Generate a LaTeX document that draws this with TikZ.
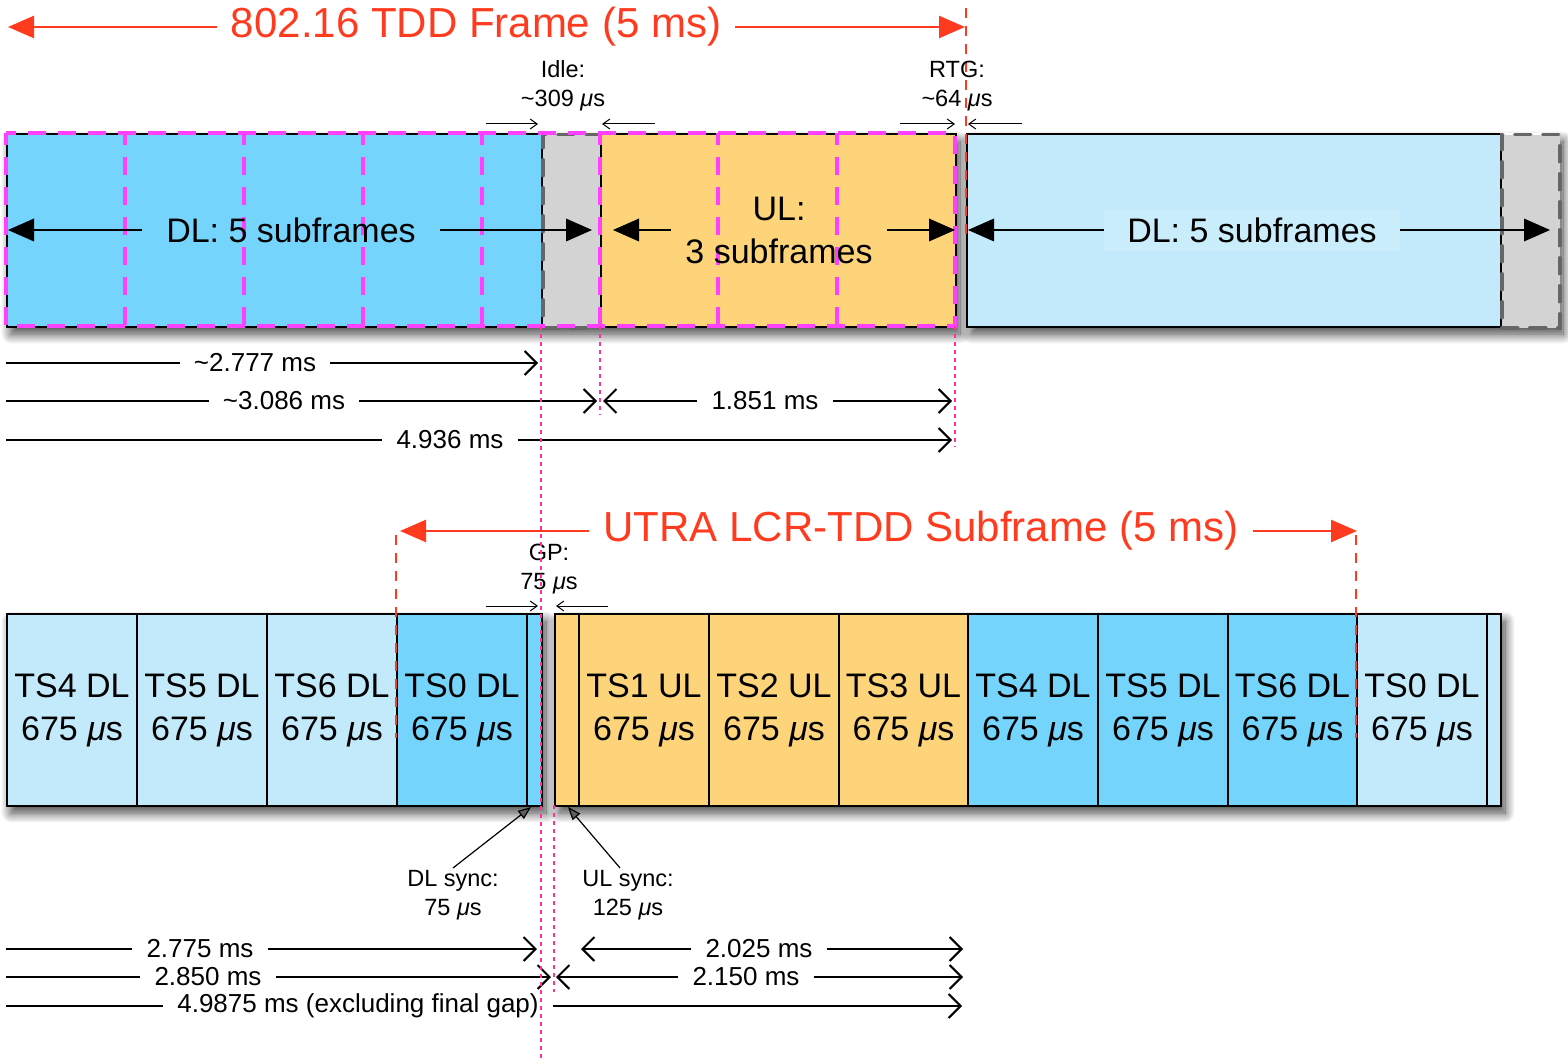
\documentclass[tikz,border=0pt]{standalone}
\usepackage{fontspec}
\setmainfont{Liberation Sans}
\usetikzlibrary{arrows.meta,shadows.blur}

\definecolor{dldark}{HTML}{75D4FC}
\definecolor{dllight}{HTML}{C2EAFB}
\definecolor{dlpale}{HTML}{CAEDFB}
\definecolor{ulorange}{HTML}{FDD47A}
\definecolor{gapgray}{HTML}{D3D3D3}
\definecolor{gapedge}{HTML}{666666}
\definecolor{subpink}{HTML}{FF40FF}
\definecolor{framered}{HTML}{FF3B1F}
\definecolor{markpink}{HTML}{FF3399}

\newcommand{\us}{ \textit{μ}s}

\tikzset{
  slot/.style={draw, line width=2pt, inner sep=0pt, anchor=north west, minimum height=192pt,
    align=center, font=\fontsize{34}{43}\selectfont},
  idlebox/.style={slot, fill=gapgray, draw=gapedge, line width=3.5pt, line cap=round, dash pattern=on 16pt off 12pt},
  subframe/.style={draw=subpink, line width=4pt, dash pattern=on 18pt off 12pt, dash phase=6pt},
  boxtext/.style={align=center, inner ysep=2pt, font=\fontsize{34}{43}\selectfont},
  bigarrow/.style={draw=black, line width=2.5pt, -{Triangle[length=26pt,width=23pt,fill=black,line width=0pt]}},
  frametitle/.style={text=framered, inner xsep=14pt, font=\fontsize{42}{48}\selectfont},
  redarrow/.style={draw=framered, line width=2.5pt, -{Triangle[length=26pt,width=22pt]}},
  redguide/.style={draw=framered, line width=2pt, dash pattern=on 10pt off 8pt},
  pinkguide/.style={draw=markpink, line width=1.5pt, dash pattern=on 4pt off 4pt},
  dimlabel/.style={inner xsep=14pt, inner ysep=0pt, font=\fontsize{26}{30}\selectfont},
  dimline/.style={line width=2pt},
  dimarrow/.style={line width=2pt, -{Straight Barb[length=12pt,width=24pt]}},
  annot/.style={align=center, inner sep=2pt, font=\fontsize{23.5}{29}\selectfont},
  tinyarrow/.style={line width=1pt, -{Straight Barb[length=7pt,width=10pt]}},
  syncarrow/.style={line width=1.2pt, -{Triangle[length=13pt,width=10pt]}},
  boxshadow/.style={fill=white, blur shadow={shadow xshift=5pt, shadow yshift=-8pt,
    shadow blur radius=10pt, shadow blur steps=14, shadow opacity=75}},
}

\begin{document}
\begin{tikzpicture}[x=1pt,y=-1pt]
\useasboundingbox (0,0) rectangle (1568,1059);

% shadows under the frames
\path[boxshadow] (6,133) rectangle (955,326);
\path[boxshadow] (966,133) rectangle (1558,326);
\path[boxshadow] (6,613) rectangle (541,805);
\path[boxshadow] (554,613) rectangle (1500,805);

% 802.16 frame
\node[slot, fill=dldark, minimum width=535pt, minimum height=193pt] (dlA) at (6,133) {};
\node[idlebox, minimum width=59pt, minimum height=193pt] (idleA) at (541,133) {};
\node[slot, fill=ulorange, minimum width=355pt, minimum height=193pt] (ulA) at (600,133) {};
\node[slot, fill=dllight, minimum width=534pt, minimum height=193pt] (dlB) at (966,133) {};
\node[idlebox, minimum width=58pt, minimum height=193pt] (rtgB) at (1500,133) {};

% subframe borders
\draw[subframe] (6,133) rectangle (955,326);
\draw[subframe] (125,133) -- (125,326);
\draw[subframe] (244,133) -- (244,326);
\draw[subframe] (363,133) -- (363,326);
\draw[subframe] (482,133) -- (482,326);
\draw[subframe] (600,133) -- (600,326);
\draw[subframe] (718,133) -- (718,326);
\draw[subframe] (837,133) -- (837,326);

\node[boxtext, inner xsep=24pt] (dlAlab) at (291,230) {DL: 5 subframes};
\coordinate (dlAl) at (8,230);
\coordinate (dlAr) at (592,230);
\draw[bigarrow] (dlAlab) -- (dlAl);
\draw[bigarrow] (dlAlab) -- (dlAr);

\node[boxtext, inner xsep=14pt] (ulAlab) at (779,230) {UL:\\3 subframes};
\coordinate (ulAl) at (613,230);
\coordinate (ulAr) at (955,230);
\draw[bigarrow] (ulAlab) -- (ulAl);
\draw[bigarrow] (ulAlab) -- (ulAr);

\node[boxtext, fill=dlpale, inner xsep=23pt, inner ysep=9pt] (dlBlab) at (1252,230) {DL: 5 subframes};
\coordinate (dlBl) at (968,230);
\coordinate (dlBr) at (1550,230);
\draw[bigarrow] (dlBlab) -- (dlBl);
\draw[bigarrow] (dlBlab) -- (dlBr);

% frame title
\node[frametitle] (ftitle) at (476,27) {802.16 TDD Frame (5 ms)};
\coordinate (ftl) at (8,27);
\coordinate (ftr) at (965,27);
\draw[redarrow] (ftitle) -- (ftl);
\draw[redarrow] (ftitle) -- (ftr);
\draw[redguide] (966,8) -- (966,240);

% gaps of the 802.16 frame
\node[annot] (idle) at (563,86) {Idle:\\\textasciitilde309\us};
\coordinate (idle1) at (486,124);
\coordinate (idle2) at (538,124);
\coordinate (idle3) at (655,124);
\coordinate (idle4) at (602,124);
\draw[tinyarrow] (idle1) -- (idle2);
\draw[tinyarrow] (idle3) -- (idle4);

\node[annot] (rtg) at (957,86) {RTG:\\\textasciitilde64\us};
\coordinate (rtg1) at (900,124);
\coordinate (rtg2) at (955,124);
\coordinate (rtg3) at (1022,124);
\coordinate (rtg4) at (968,124);
\draw[tinyarrow] (rtg1) -- (rtg2);
\draw[tinyarrow] (rtg3) -- (rtg4);

% 802.16 durations
\node[dimlabel] (d1) at (255,363) {\textasciitilde2.777 ms};
\coordinate (d1s) at (6,363);
\coordinate (d1e) at (538,363);
\draw[dimline] (d1s) -- (d1);
\draw[dimarrow] (d1) -- (d1e);

\node[dimlabel] (d2) at (284,401) {\textasciitilde3.086 ms};
\coordinate (d2s) at (6,401);
\coordinate (d2e) at (597,401);
\draw[dimline] (d2s) -- (d2);
\draw[dimarrow] (d2) -- (d2e);

\node[dimlabel] (d3) at (765,401) {1.851 ms};
\coordinate (d3s) at (603,401);
\coordinate (d3e) at (952,401);
\draw[dimarrow] (d3) -- (d3s);
\draw[dimarrow] (d3) -- (d3e);

\node[dimlabel] (d4) at (450,440) {4.936 ms};
\coordinate (d4s) at (6,440);
\coordinate (d4e) at (952,440);
\draw[dimline] (d4s) -- (d4);
\draw[dimarrow] (d4) -- (d4e);

% UTRA LCR-TDD subframe
\node[slot, fill=dllight, minimum width=130pt] (ts4a) at (6,613) {TS4 DL\\675\us};
\node[slot, fill=dllight, minimum width=130pt] (ts5a) at (136,613) {TS5 DL\\675\us};
\node[slot, fill=dllight, minimum width=130pt] (ts6a) at (266,613) {TS6 DL\\675\us};
\node[slot, fill=dldark, minimum width=130pt] (ts0a) at (396,613) {TS0 DL\\675\us};
\node[slot, fill=dldark, minimum width=15pt] (dlsyncA) at (526,613) {};
\node[slot, fill=ulorange, minimum width=24pt] (ulsyncA) at (554,613) {};
\node[slot, fill=ulorange, minimum width=130pt] (ts1) at (578,613) {TS1 UL\\675\us};
\node[slot, fill=ulorange, minimum width=130pt] (ts2) at (708,613) {TS2 UL\\675\us};
\node[slot, fill=ulorange, minimum width=129pt] (ts3) at (838,613) {TS3 UL\\675\us};
\node[slot, fill=dldark, minimum width=130pt] (ts4b) at (967,613) {TS4 DL\\675\us};
\node[slot, fill=dldark, minimum width=130pt] (ts5b) at (1097,613) {TS5 DL\\675\us};
\node[slot, fill=dldark, minimum width=129pt] (ts6b) at (1227,613) {TS6 DL\\675\us};
\node[slot, fill=dllight, minimum width=130pt] (ts0b) at (1356,613) {TS0 DL\\675\us};
\node[slot, fill=dllight, minimum width=14pt] (tailB) at (1486,613) {};

% subframe title
\node[frametitle] (stitle) at (921,531) {UTRA LCR-TDD Subframe (5 ms)};
\coordinate (stl) at (400,531);
\coordinate (str) at (1357,531);
\draw[redarrow] (stitle) -- (stl);
\draw[redarrow] (stitle) -- (str);
\draw[redguide] (396,535) -- (396,738);
\draw[redguide] (1356,535) -- (1356,738);

\node[annot] (gp) at (549,569) {GP:\\75\us};
\coordinate (gp1) at (486,606);
\coordinate (gp2) at (538,606);
\coordinate (gp3) at (608,606);
\coordinate (gp4) at (556,606);
\draw[tinyarrow] (gp1) -- (gp2);
\draw[tinyarrow] (gp3) -- (gp4);

\node[annot] (dlsync) at (453,895) {DL sync:\\75\us};
\coordinate (dlsyncT) at (531,807);
\draw[syncarrow] (dlsync.north) -- (dlsyncT);

\node[annot] (ulsync) at (628,895) {UL sync:\\125\us};
\coordinate (ulsyncT) at (568,807);
\draw[syncarrow] ([xshift=-8pt]ulsync.north) -- (ulsyncT);

% UTRA durations
\node[dimlabel] (e1) at (200,949) {2.775 ms};
\coordinate (e1s) at (6,949);
\coordinate (e1e) at (537,949);
\draw[dimline] (e1s) -- (e1);
\draw[dimarrow] (e1) -- (e1e);

\node[dimlabel] (e2) at (759,949) {2.025 ms};
\coordinate (e2s) at (581,949);
\coordinate (e2e) at (963,949);
\draw[dimarrow] (e2) -- (e2s);
\draw[dimarrow] (e2) -- (e2e);

\node[dimlabel] (e3) at (208,977) {2.850 ms};
\coordinate (e3s) at (6,977);
\coordinate (e3e) at (551,977);
\draw[dimline] (e3s) -- (e3);
\draw[dimarrow] (e3) -- (e3e);

\node[dimlabel] (e4) at (746,977) {2.150 ms};
\coordinate (e4s) at (556,977);
\coordinate (e4e) at (963,977);
\draw[dimarrow] (e4) -- (e4s);
\draw[dimarrow] (e4) -- (e4e);

\node[dimlabel] (e5) at (358,1006) {4.9875 ms (excluding final gap)};
\coordinate (e5s) at (6,1006);
\coordinate (e5e) at (962,1006);
\draw[dimline] (e5s) -- (e5);
\draw[dimarrow] (e5) -- (e5e);

% boundary markers
\draw[pinkguide] (541,326) -- (541,1059);
\draw[pinkguide] (600,326) -- (600,415);
\draw[pinkguide] (955,326) -- (955,447);
\draw[pinkguide] (554,805) -- (554,992);
\end{tikzpicture}
\end{document}
